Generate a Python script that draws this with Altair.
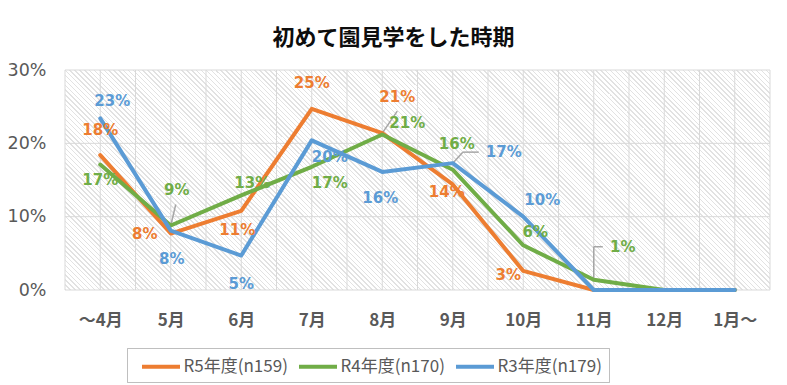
import json
import altair as alt
import pandas as pd

# ---------------- data ----------------
TITLE = "初めて園見学をした時期"
MONTHS = ["～4月", "5月", "6月", "7月", "8月", "9月", "10月", "11月", "12月", "1月～"]
SERIES = ["R5年度(n159)", "R4年度(n170)", "R3年度(n179)"]
R5 = [0.184, 0.077, 0.108, 0.247, 0.214, 0.144, 0.026, 0.0, 0.0, 0.0]
R4 = [0.171, 0.088, 0.129, 0.168, 0.212, 0.164, 0.061, 0.014, 0.0, 0.0]
R3 = [0.234, 0.081, 0.047, 0.204, 0.161, 0.173, 0.100, 0.0, 0.0, 0.0]
Y_TICKS = [0, 0.1, 0.2, 0.3]

# ---------------- styles / label placement (pixels) ----------------
COLORS = ["#ED7D31", "#70AD47", "#5B9BD5"]
LABEL_OFFSETS = {
    SERIES[0]: [(0, -25), (-26, 0), (-4, 19), (0, -26), (15, -36), (-6, 8), (-15, 4), None, None, None],
    SERIES[1]: [(0, 15), (6, -35), (11, -12), (18, 16), (25, -12), (4, -26), (12, -13), (29, -33), None, None],
    SERIES[2]: [(12, -17), (1, 28), (0, 28), (18, 17), (-2, 26), (51, -11), (19, -17), None, None, None],
}
LEADERS = [  # (series index, month index, polyline offsets in px from the point)
    (1, 1, [(0, 0), (5, -21)]),
    (0, 4, [(0, 0), (15, -22)]),
    (2, 5, [(0, 0), (10, -11), (26, -11)]),
    (1, 7, [(0, 0), (0, -33), (9, -33)]),
]
W, H = 705, 220
X_DOMAIN = [-0.5, len(MONTHS) - 0.5]
Y_DOMAIN = [0, 0.3]
GRID = "#d9d9d9"
TXT = "#595959"
JP = "Noto Sans CJK JP"

values = [R5, R4, R3]
rows = []
for s, vals in zip(SERIES, values):
    for i, v in enumerate(vals):
        off = LABEL_OFFSETS[s][i]
        rows.append({"series": s, "idx": i, "value": v,
                     "show": off is not None,
                     "dx": off[0] if off else 0, "dy": off[1] if off else 0})
df = pd.DataFrame(rows)

lrows = []
for si, mi, pts in LEADERS:
    v = values[si][mi]
    for (a, b), (c, d) in zip(pts[:-1], pts[1:]):
        lrows.append({"idx": mi, "value": v, "ox1": a, "oy1": b, "ox2": c, "oy2": d})
ldf = pd.DataFrame(lrows)

xscale = alt.Scale(domain=X_DOMAIN, nice=False, zero=False)
yscale = alt.Scale(domain=Y_DOMAIN, nice=False, zero=True)
xaxis = alt.Axis(values=list(range(len(MONTHS))),
                 labelExpr=json.dumps(MONTHS, ensure_ascii=False) + "[datum.value]",
                 grid=False, ticks=False, tickSize=0, domain=False, title=None,
                 labelFont=JP, labelFontSize=17, labelFontWeight="bold", labelColor=TXT,
                 labelPadding=22, labelFlush=False, labelOverlap=False)
yaxis = alt.Axis(values=Y_TICKS, format=".0%", grid=False, ticks=False, tickSize=0,
                 domain=False, title=None, labelFont="DejaVu Sans", labelFontSize=17.5,
                 labelColor=TXT, labelPadding=19, labelFlush=False)

cscale = alt.Scale(domain=SERIES, range=COLORS)
legend = alt.Legend(title=None, orient="none", legendX=62, legendY=278, direction="horizontal",
                    symbolType="M-2,0H2", symbolSize=361, symbolStrokeWidth=4, symbolOffset=15.5,
                    labelFont=JP, labelFontSize=17, labelColor=TXT, strokeColor="#bfbfbf",
                    fillColor="white", padding=7, columnPadding=3, labelOffset=11)

# hatch background: thin diagonal stripes via a linear gradient
N = 190
stops = []
for k in range(N):
    a, b, c = k / N, (k + 0.3) / N, (k + 1) / N
    stops += [{"offset": a, "color": "#e2e2e2"}, {"offset": b, "color": "#e2e2e2"},
              {"offset": b, "color": "#ffffff"}, {"offset": c, "color": "#ffffff"}]
r = H / W
uu = 1 + r * r
smin, smax = -r / uu, 1 / uu
hatch = alt.LinearGradient(gradient="linear", stops=stops,
                           x1=smin, y1=-r * smin, x2=smax, y2=-r * smax)

bg = alt.Chart(pd.DataFrame({"x0": [X_DOMAIN[0]], "x1": [X_DOMAIN[1]],
                             "y0": [Y_DOMAIN[0]], "y1": [Y_DOMAIN[1]]})).mark_rect(
    fill=hatch, strokeWidth=0).encode(
    x=alt.X("x0:Q", scale=xscale, axis=xaxis), x2="x1:Q",
    y=alt.Y("y0:Q", scale=yscale, axis=yaxis), y2="y1:Q")

vgrid = alt.Chart(pd.DataFrame({"g": [X_DOMAIN[0] + 0.5 * k for k in range(2 * len(MONTHS) + 1)]})).mark_rule(
    color=GRID, strokeWidth=1).encode(x=alt.X("g:Q", scale=xscale, axis=xaxis))
hgrid = alt.Chart(pd.DataFrame({"g": Y_TICKS})).mark_rule(
    color=GRID, strokeWidth=1).encode(y=alt.Y("g:Q", scale=yscale, axis=yaxis))

leaders = alt.Chart(ldf).mark_rule(
    color="#a6a6a6", strokeWidth=1.5,
    xOffset=alt.expr("datum.ox1"), yOffset=alt.expr("datum.oy1"),
    x2Offset=alt.expr("datum.ox2"), y2Offset=alt.expr("datum.oy2")).encode(
    x=alt.X("idx:Q", scale=xscale, axis=xaxis), x2="idx:Q",
    y=alt.Y("value:Q", scale=yscale, axis=yaxis), y2="value:Q")

lines = []
for s in SERIES:
    lines.append(alt.Chart(df).transform_filter(alt.datum.series == s).mark_line(
        strokeWidth=4, strokeCap="round", strokeJoin="round").encode(
        x=alt.X("idx:Q", scale=xscale, axis=xaxis),
        y=alt.Y("value:Q", scale=yscale, axis=yaxis),
        color=alt.Color("series:N", scale=cscale, legend=legend)))

labels = alt.Chart(df).transform_filter("datum.show").mark_text(
    font="DejaVu Sans", fontSize=15, fontWeight="bold", baseline="middle", align="center",
    dx=alt.expr("datum.dx"), dy=alt.expr("datum.dy")).encode(
    x=alt.X("idx:Q", scale=xscale, axis=xaxis),
    y=alt.Y("value:Q", scale=yscale, axis=yaxis),
    text=alt.Text("value:Q", format=".0%"),
    color=alt.Color("series:N", scale=alt.Scale(domain=SERIES, range=COLORS), legend=None))

chart = alt.layer(bg, vgrid, hgrid, leaders, *lines, labels).resolve_scale(
    color="independent").properties(
    width=W, height=H, autosize="none",
    padding={"left": 57, "top": 62, "right": 9, "bottom": 110},
    title=alt.TitleParams(TITLE, font=JP, fontSize=22, fontWeight="bold", color="#0d0d0d",
                          anchor="middle", offset=11, dx=-24),
).configure_view(stroke=None)

chart.save("out.html", embed_options={"renderer": "svg", "actions": False})
